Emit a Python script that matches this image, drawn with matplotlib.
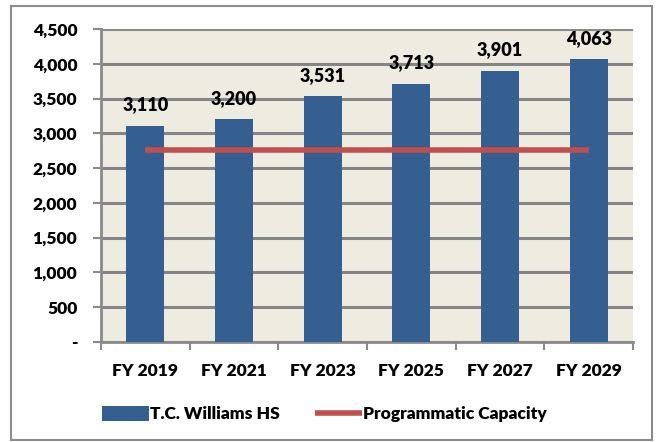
import matplotlib.pyplot as plt
from matplotlib.patches import Rectangle
from matplotlib.ticker import FuncFormatter, FixedLocator
import numpy as np

years = ["FY 2019", "FY 2021", "FY 2023", "FY 2025", "FY 2027", "FY 2029"]
enrollment = [3110, 3200, 3531, 3713, 3901, 4063]
capacity = [2760, 2760, 2760, 2760, 2760, 2760]

plt.rcParams['font.family'] = ['Lato', 'DejaVu Sans']
plt.rcParams['font.weight'] = 'bold'

fig = plt.figure(figsize=(6.56, 4.42), dpi=100)
fig.patches.append(Rectangle((11/656, 2/442), 641/656, 434/442, transform=fig.transFigure,
                             fill=False, edgecolor='#8c8c8c', linewidth=1.5))

ax = fig.add_axes([101/656, 1 - 342/442, 532/656, 313/442])
ax.set_facecolor('#eeece1')

x = np.arange(len(years))
bars = ax.bar(x, enrollment, width=0.43, color='#365f91', zorder=3, label='T.C. Williams HS')
line, = ax.plot(x, capacity, color='#c0504d', linewidth=4, zorder=4, label='Programmatic Capacity',
                solid_capstyle='butt')

for xi, v in zip(x, enrollment):
    ax.annotate(f"{v:,}", (xi, v), xytext=(0, 9), textcoords='offset points',
                ha='center', va='bottom', fontsize=13, fontweight='heavy')

ax.set_xlim(-0.5, len(years) - 0.5)
ax.set_ylim(0, 4500)
ax.set_yticks(np.arange(0, 4501, 500))
ax.yaxis.set_major_formatter(FuncFormatter(lambda v, p: '-' if v == 0 else f"{int(v):,}"))
ax.yaxis.grid(True, color='#858585', linewidth=2.2, zorder=1)
ax.set_axisbelow(True)

ax.xaxis.set_major_locator(FixedLocator(np.arange(-0.5, len(years), 1.0)))
ax.xaxis.set_minor_locator(FixedLocator(x))
ax.set_xticklabels([])
ax.set_xticklabels(years, minor=True)
ax.tick_params(axis='x', which='minor', length=0, pad=15, labelsize=12.5)
ax.tick_params(axis='x', which='major', length=6, width=1.5, color='#8a8a8a', direction='out')
ax.tick_params(axis='y', length=6, width=1.5, color='#8a8a8a', labelsize=12.5, pad=11)
for lbl in ax.get_yticklabels() + ax.get_xticklabels(minor=True):
    lbl.set_fontweight('heavy')

for s in ['top', 'right']:
    ax.spines[s].set_visible(False)
for s in ['left', 'bottom']:
    ax.spines[s].set_color('#8a8a8a')
    ax.spines[s].set_linewidth(2)
ax.axhline(4500, color='#8a8a8a', linewidth=2, zorder=2)

leg = fig.legend([bars, line], ['T.C. Williams HS', 'Programmatic Capacity'],
                 loc='lower left', bbox_to_anchor=(86/656, 4/442), ncol=2, frameon=False,
                 prop={'size': 12.5, 'weight': 'heavy'}, handlelength=2.7, handleheight=1.0,
                 handletextpad=0.1, columnspacing=2.0)

fig.savefig('out.png', dpi=100)
